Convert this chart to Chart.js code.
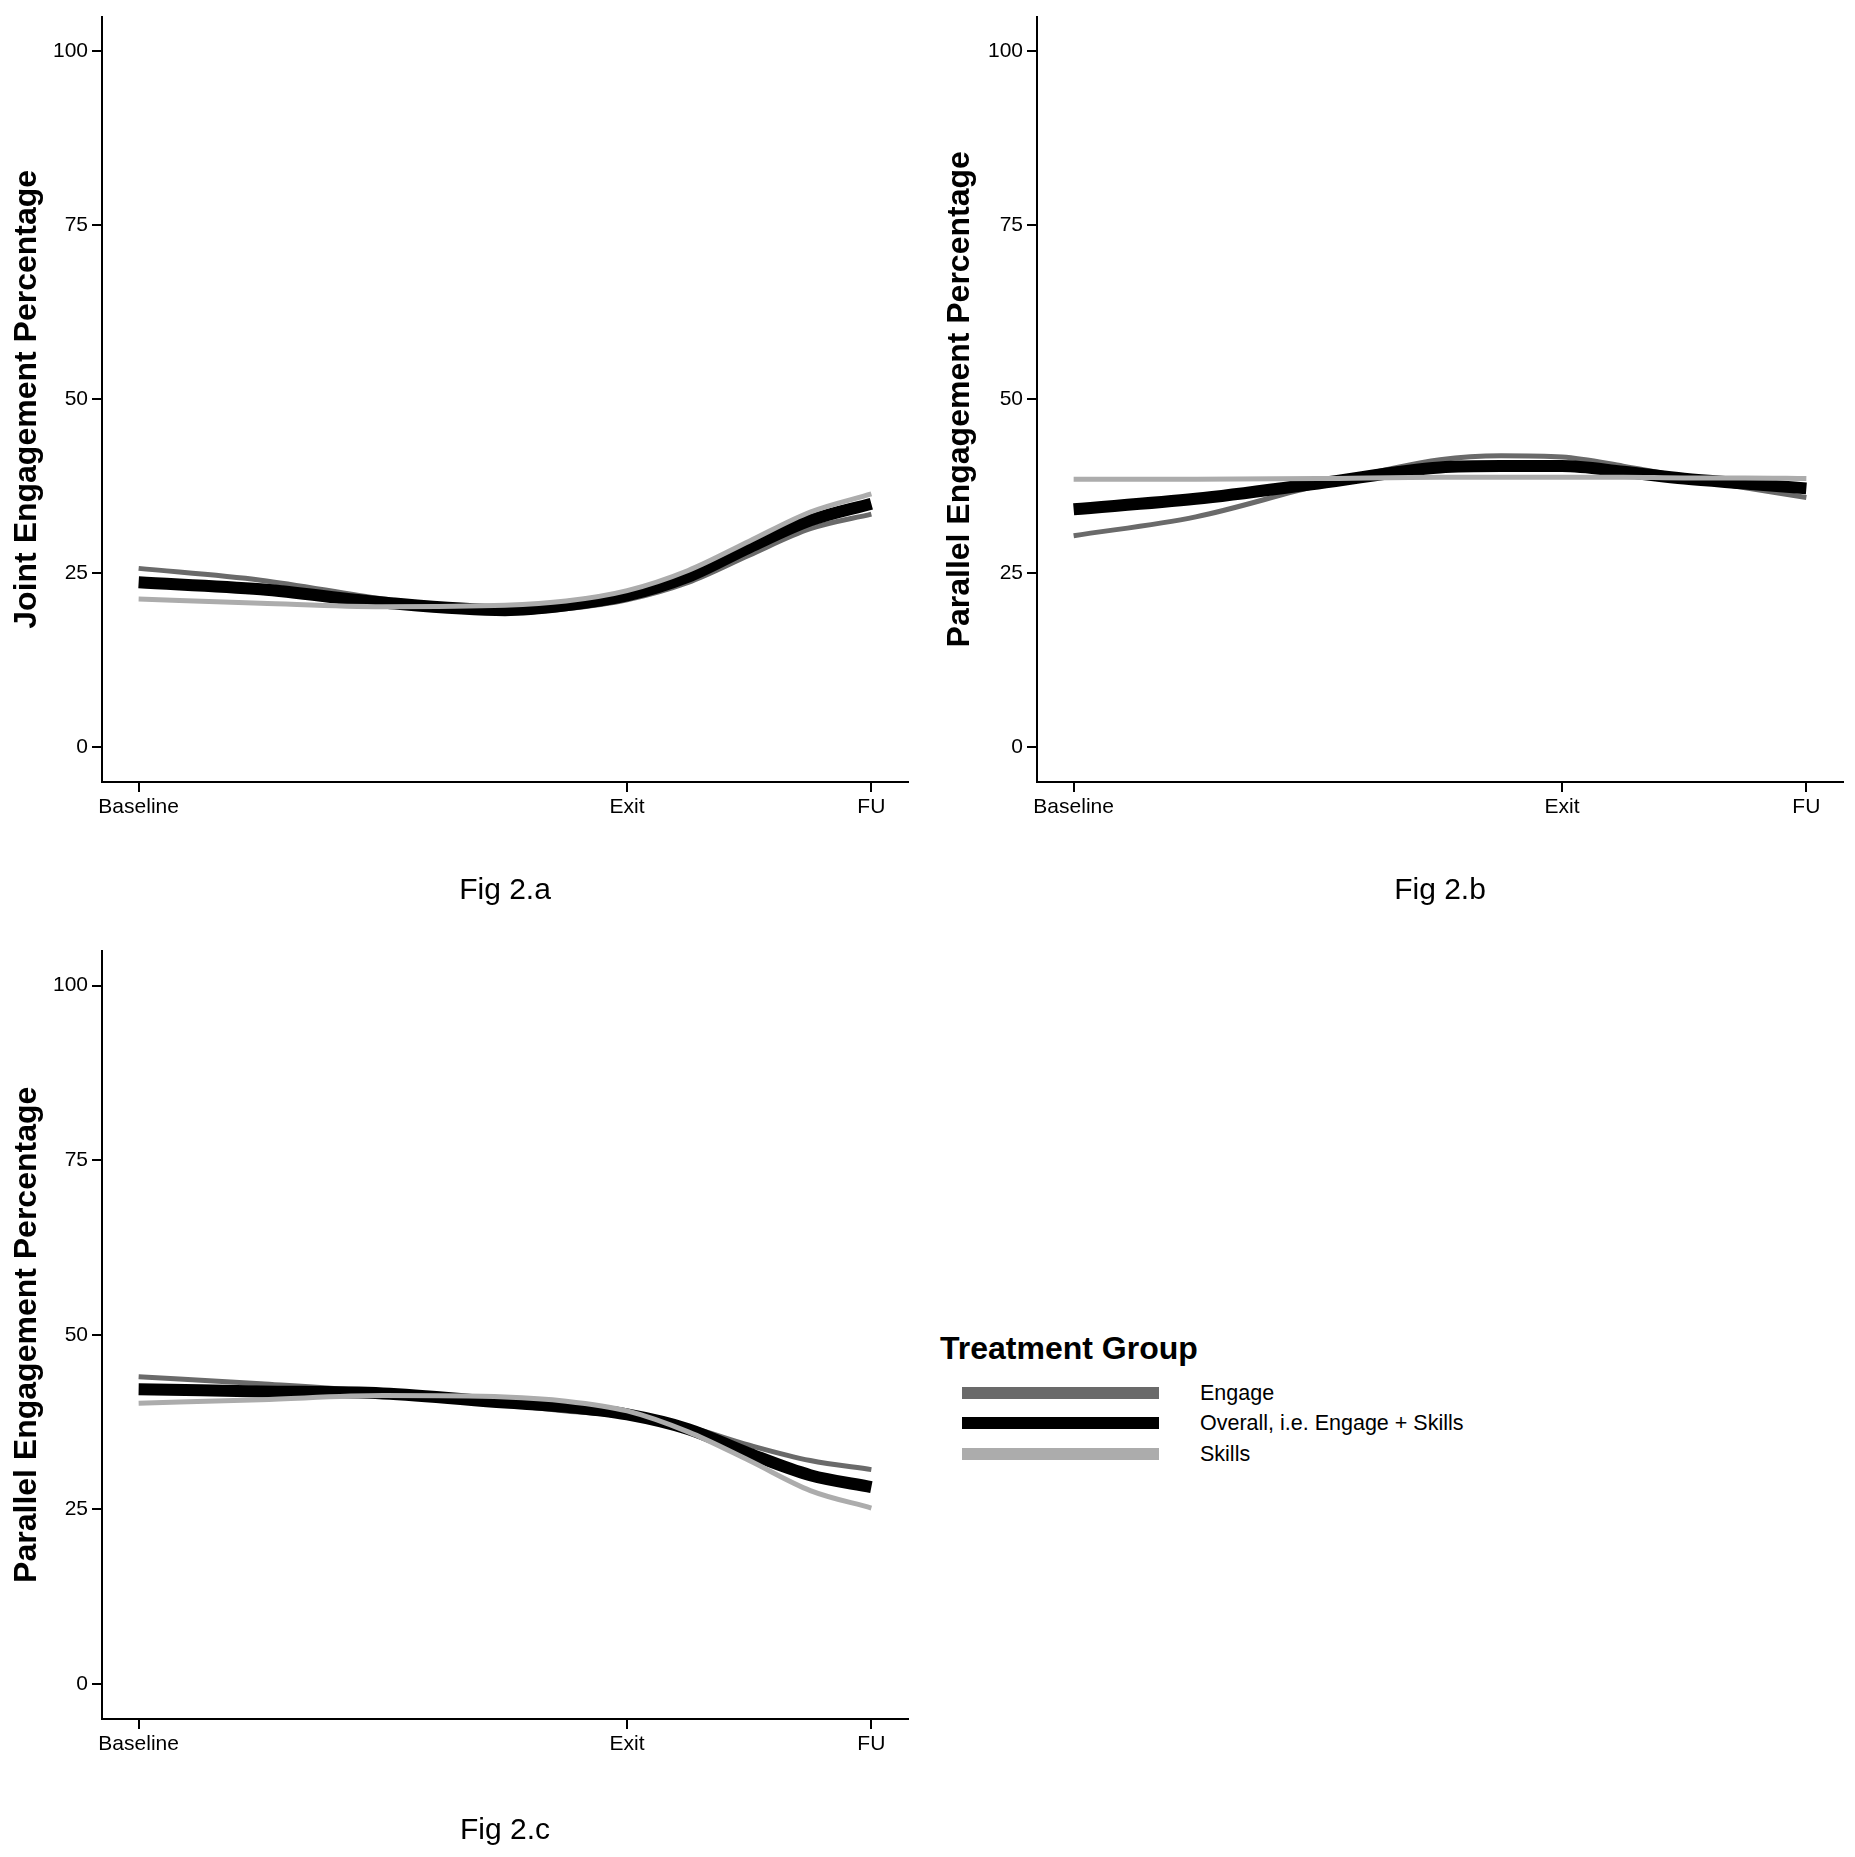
<!DOCTYPE html>
<html>
<head>
<meta charset="utf-8">
<script src="https://cdn.jsdelivr.net/npm/chart.js@4.4.1/dist/chart.umd.min.js"></script>
<style>
  body { margin: 0; background: #fff; width: 1855px; height: 1857px; position: relative; overflow: hidden;
         font-family: "Liberation Sans", Arial, sans-serif; color: #000; }
  canvas { position: absolute; }
  .legend-title { position: absolute; left: 940px; top: 1328px; font-size: 32px; font-weight: bold; line-height: 40px; white-space: nowrap; }
  .legend-key { position: absolute; left: 962px; width: 197px; height: 12px; }
  .legend-label { position: absolute; left: 1200px; font-size: 21.5px; line-height: 26px; white-space: nowrap; }
</style>
</head>
<body>
<canvas id="figA" width="928" height="935" style="left:0;top:0"></canvas>
<canvas id="figB" width="927" height="935" style="left:928px;top:0"></canvas>
<canvas id="figC" width="928" height="923" style="left:0;top:934px"></canvas>
<div id="legend"></div>
<script>
// time axis: Baseline = 0, Exit = 2, FU = 3 (smoothed curves read at these times)
const sampleTimes = [0, 0.5, 1, 1.5, 1.75, 2, 2.25, 2.5, 2.75, 3];
const visitTicks = [0, 2, 3];
const visitLabels = ['Baseline', 'Exit', 'FU'];
const percentTicks = [0, 25, 50, 75, 100];
const groupNames = ['Engage', 'Overall, i.e. Engage + Skills', 'Skills'];
const groupColors = ['#6a6a6a', '#000000', '#acacac'];
const groupWidths = [5, 12, 5];

// Fig 2.a joint engagement
const jointEngage  = [25.7, 24.0, 21.3, 19.3, 19.9, 21.2, 23.7, 27.6, 31.4, 33.5];
const jointOverall = [23.7, 22.7, 20.8, 19.7, 20.4, 21.8, 24.5, 28.7, 32.6, 35.0];
const jointSkills  = [21.3, 20.7, 20.2, 20.4, 21.0, 22.5, 25.4, 29.6, 33.8, 36.4];

// Fig 2.b parallel engagement
const parallelBEngage  = [30.4, 33.1, 37.6, 41.3, 41.9, 41.7, 40.4, 38.8, 37.3, 35.9];
const parallelBOverall = [34.2, 35.7, 37.9, 40.2, 40.4, 40.4, 39.6, 38.6, 37.9, 37.2];
const parallelBSkills  = [38.5, 38.5, 38.6, 38.8, 38.8, 38.8, 38.8, 38.7, 38.7, 38.6];

// Fig 2.c parallel engagement
const parallelCEngage  = [44.0, 43.0, 41.8, 40.0, 39.1, 38.3, 36.8, 34.2, 32.0, 30.7];
const parallelCOverall = [42.2, 41.9, 41.6, 40.3, 39.7, 38.6, 36.5, 33.0, 29.9, 28.2];
const parallelCSkills  = [40.2, 40.7, 41.3, 41.1, 40.5, 39.1, 36.1, 32.0, 27.7, 25.2];

const FONT = '"Liberation Sans", Arial, sans-serif';

function toPoints(values) {
  return values.map((v, i) => ({ x: sampleTimes[i], y: v }));
}

function makeFigure(id, yTitle, xTitle, series, box) {
  const datasets = series.map((values, i) => ({
    label: groupNames[i],
    data: toPoints(values),
    borderColor: groupColors[i],
    borderWidth: groupWidths[i],
    order: 3 - i
  }));

  new Chart(document.getElementById(id), {
    type: 'line',
    data: { datasets },
    options: {
      responsive: false,
      animation: false,
      devicePixelRatio: 1,
      elements: {
        point: { radius: 0 },
        line: { cubicInterpolationMode: 'monotone', borderCapStyle: 'butt', fill: false }
      },
      layout: { padding: { left: 0, top: box.top, right: box.right, bottom: 0 } },
      plugins: { legend: { display: false }, tooltip: { enabled: false } },
      scales: {
        x: {
          type: 'linear',
          min: -0.15,
          max: 3.15,
          afterBuildTicks: s => { s.ticks = visitTicks.map(v => ({ value: v })); },
          afterFit: s => { s.height = box.xHeight; },
          ticks: {
            autoSkip: false, maxRotation: 0, color: '#000', padding: 3,
            font: { family: FONT, size: 21 },
            callback: v => visitLabels[visitTicks.indexOf(v)]
          },
          grid: { drawOnChartArea: false, color: '#000', lineWidth: 2, tickLength: 10 },
          border: { color: '#000', width: 2 },
          title: {
            display: true, text: xTitle, color: '#000',
            font: { family: FONT, size: 30 },
            padding: { top: 0, bottom: box.xTitlePad }
          }
        },
        y: {
          type: 'linear',
          min: -5,
          max: 105,
          afterBuildTicks: s => { s.ticks = percentTicks.map(v => ({ value: v })); },
          afterFit: s => { s.width = box.yWidth; },
          ticks: { color: '#000', padding: 4, font: { family: FONT, size: 21 } },
          grid: { drawOnChartArea: false, color: '#000', lineWidth: 2, tickLength: 10 },
          border: { color: '#000', width: 2 },
          title: {
            display: true, text: yTitle, color: '#000',
            font: { family: FONT, size: 32, weight: 'bold' },
            padding: { top: box.yTitlePad, bottom: 0 }
          }
        }
      }
    }
  });
}

makeFigure('figA', 'Joint Engagement Percentage', 'Fig 2.a',
  [jointEngage, jointOverall, jointSkills],
  { top: 15, right: 20, yWidth: 102, xHeight: 153, xTitlePad: 26, yTitlePad: 8 });

makeFigure('figB', 'Parallel Engagement Percentage', 'Fig 2.b',
  [parallelBEngage, parallelBOverall, parallelBSkills],
  { top: 15, right: 12, yWidth: 109, xHeight: 153, xTitlePad: 26, yTitlePad: 13 });

makeFigure('figC', 'Parallel Engagement Percentage', 'Fig 2.c',
  [parallelCEngage, parallelCOverall, parallelCSkills],
  { top: 15, right: 20, yWidth: 102, xHeight: 138, xTitlePad: 8, yTitlePad: 8 });

// legend (Treatment Group)
const legend = document.getElementById('legend');
const title = document.createElement('div');
title.className = 'legend-title';
title.textContent = 'Treatment Group';
legend.appendChild(title);
const keyCenters = [1392.5, 1423, 1454];
groupNames.forEach((name, i) => {
  const key = document.createElement('div');
  key.className = 'legend-key';
  key.style.top = (keyCenters[i] - 6) + 'px';
  key.style.background = groupColors[i];
  legend.appendChild(key);
  const label = document.createElement('div');
  label.className = 'legend-label';
  label.style.top = (keyCenters[i] - 13) + 'px';
  label.textContent = name;
  legend.appendChild(label);
});
</script>
</body>
</html>
